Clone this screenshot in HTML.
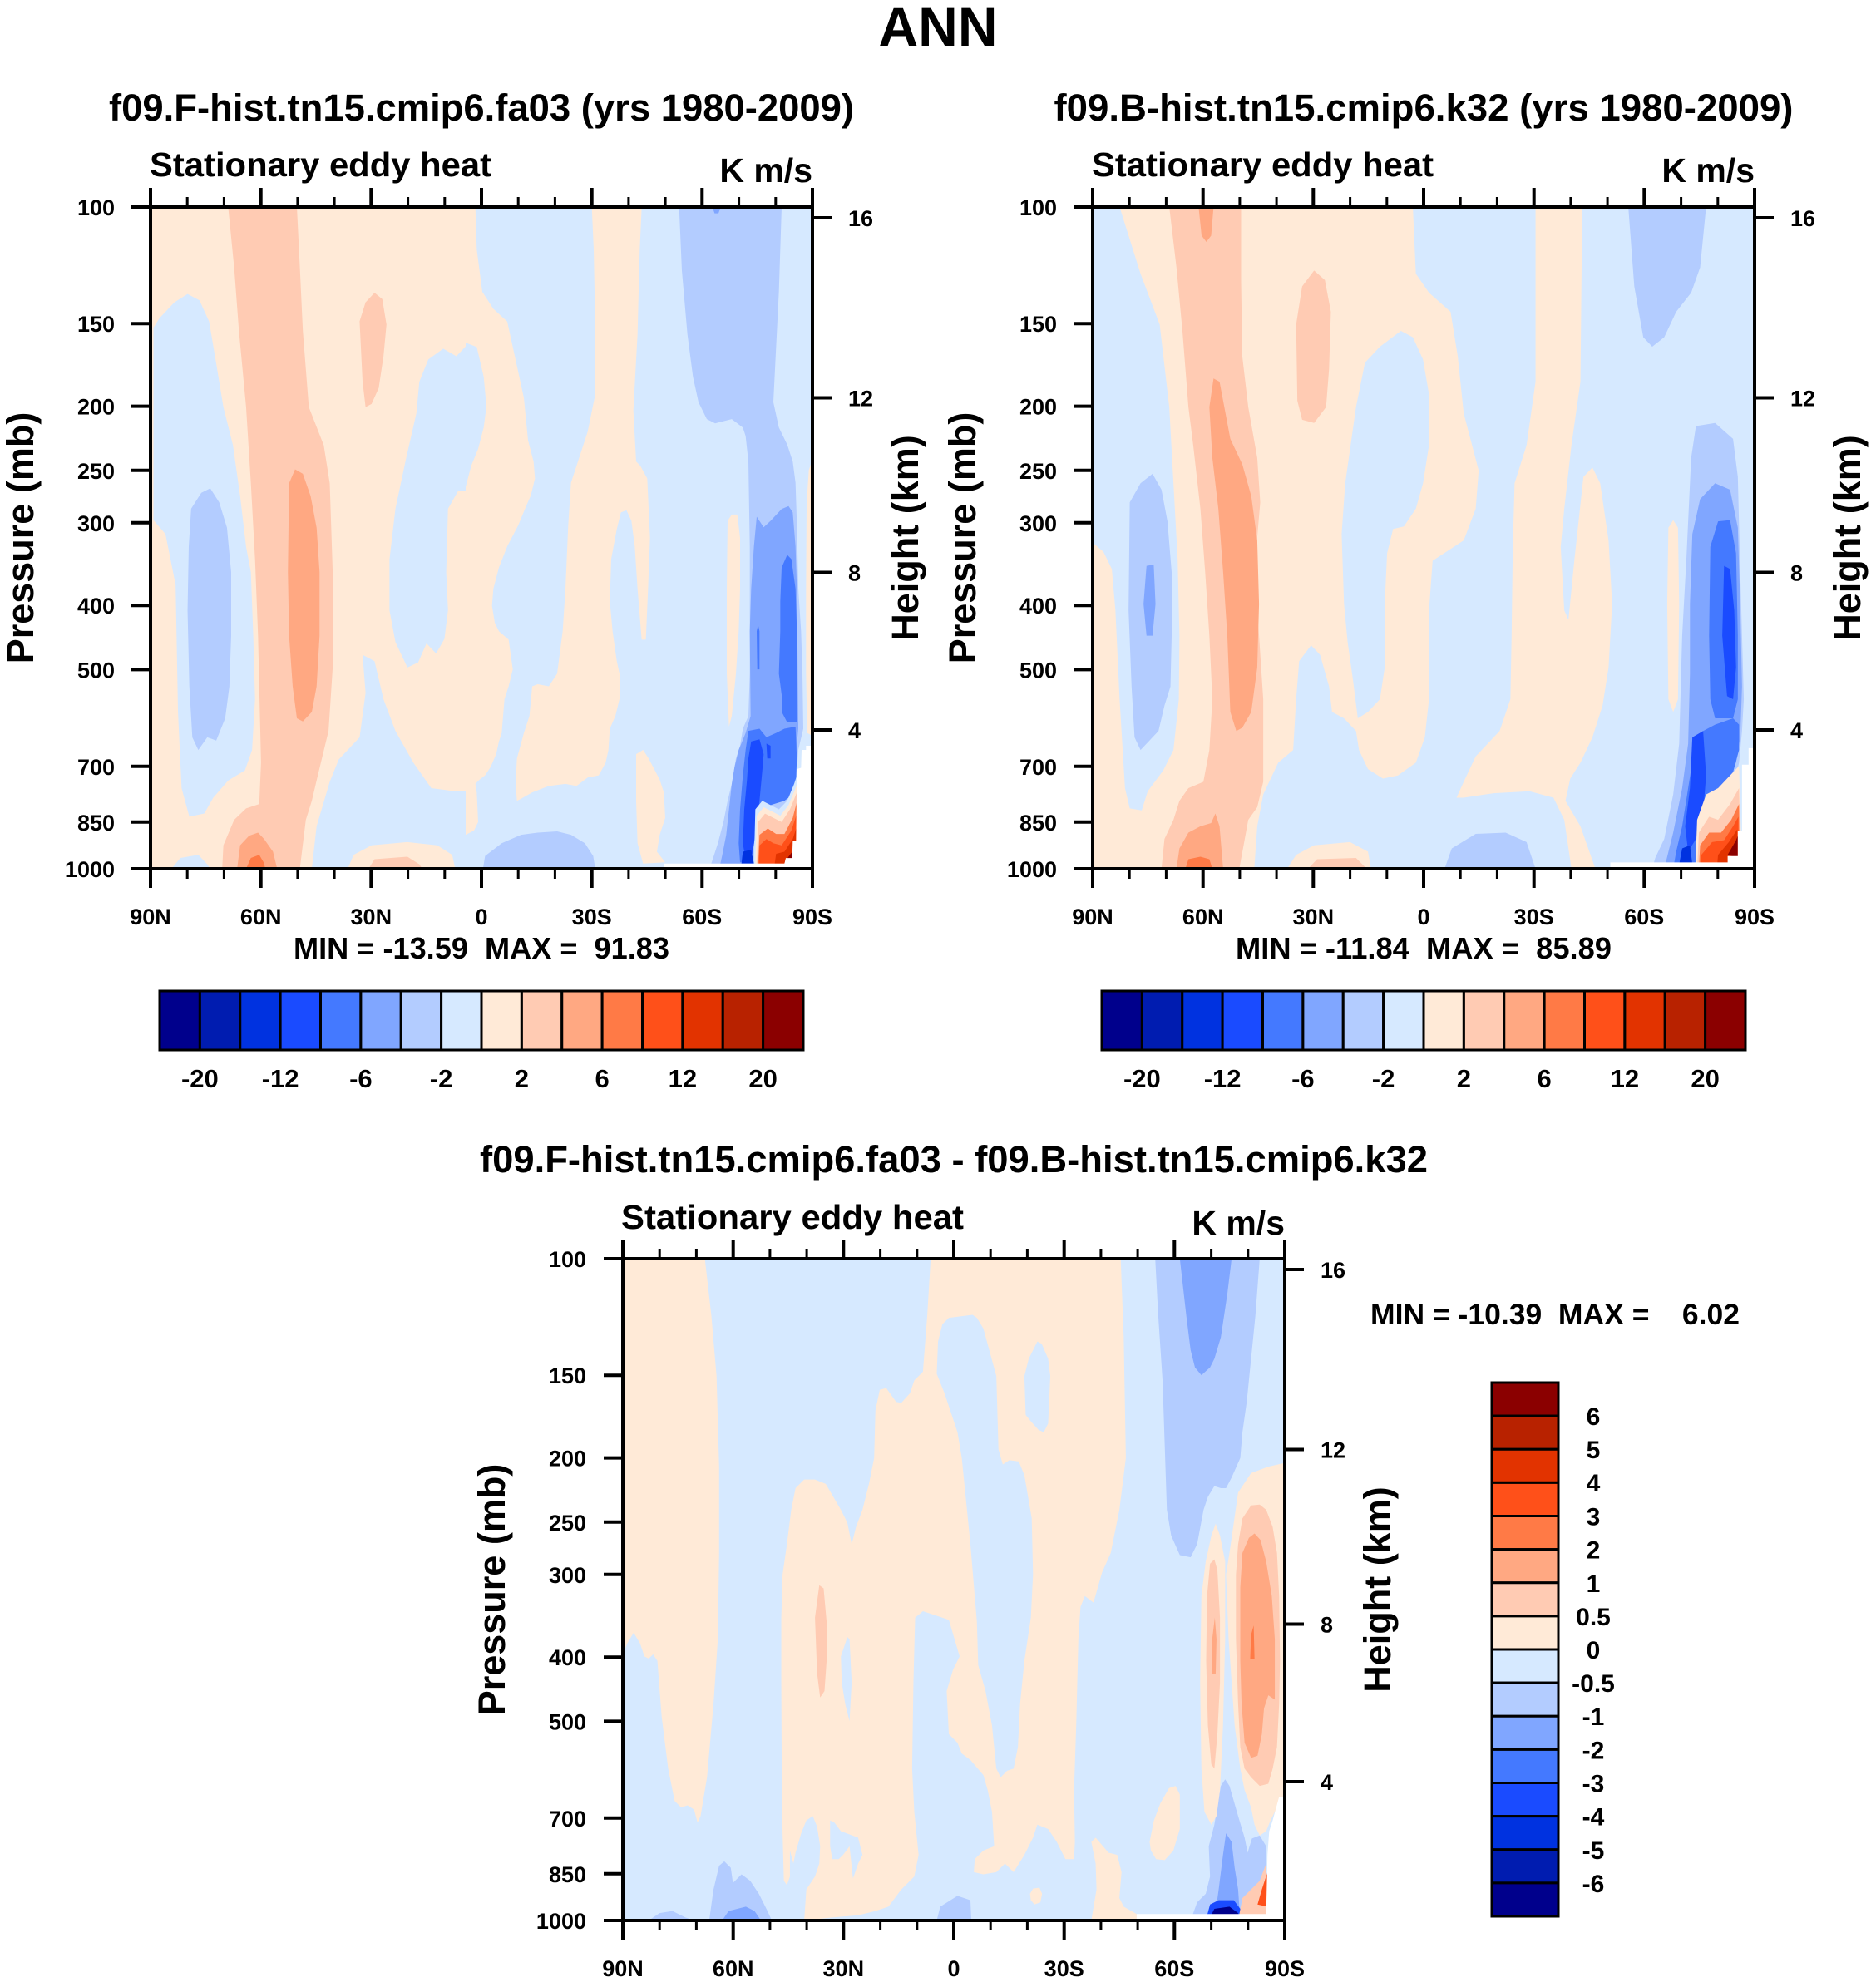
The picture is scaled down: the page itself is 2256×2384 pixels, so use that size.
<!DOCTYPE html>
<html><head><meta charset="utf-8"><style>
html,body{margin:0;padding:0;background:#fff;}
svg{display:block;}
text{font-family:"Liberation Sans",Arial,Helvetica,sans-serif;font-weight:bold;fill:#000;white-space:pre;}
</style></head><body>
<svg width="2256" height="2384" viewBox="0 0 2256 2384" xmlns="http://www.w3.org/2000/svg">
<defs>
<clipPath id="c1"><rect x="181" y="249" width="796" height="796"/></clipPath>
<clipPath id="c2"><rect x="1314" y="249" width="796" height="796"/></clipPath>
<clipPath id="c3"><rect x="749" y="1514" width="796" height="796"/></clipPath>
</defs>
<rect x="0" y="0" width="2256" height="2384" fill="#fff"/>

<!-- ================= PLOT 1 ================= -->
<g clip-path="url(#c1)"><g transform="translate(181,249) scale(0.71841,0.76392) translate(-250,-325)">
<rect x="250" y="325" width="1108" height="1042" fill="#FFEAD7"/>
<g fill="#D6E9FF">
<path d="M793,325 L1358,325 L1358,1367 L520,1367 L528,1300 L550,1230 L565,1195 L600,1160 L610,1090 L605,1030 L625,1040 L640,1100 L660,1150 L690,1200 L720,1240 L760,1245 L790,1245 L805,1260 L822,1235 L830,1180 L835,1130 L856,1088 L860,1050 L838,1000 L826,960 L828,885 L862,835 L888,790 L895,740 L878,690 L862,650 L852,560 L845,505 L818,480 L800,430 Z"/>
<path d="M255,515 L265,500 L290,475 L312,462 L332,472 L348,505 L358,560 L372,640 L388,700 L400,780 L410,860 L418,900 L422,1000 L425,1100 L420,1180 L408,1212 L380,1228 L355,1255 L340,1280 L315,1285 L302,1240 L296,1120 L292,920 L275,840 L255,818 Z"/>
<path d="M700,600 L715,565 L740,548 L762,560 L782,540 L800,550 L810,590 L810,700 L800,750 L790,772 L765,772 L748,800 L745,900 L748,960 L742,1005 L728,1028 L712,1012 L698,1042 L680,1050 L660,1010 L650,960 L650,880 L660,800 L678,720 L695,650 Z"/>
<path d="M285,1367 L300,1350 L330,1345 L345,1360 L350,1367 Z"/>
</g>
<g fill="#FFEAD7">
<path d="M580,1367 L590,1345 L620,1330 L680,1325 L730,1330 L755,1345 L760,1367 Z"/>
</g>
<g fill="#FFCBB3">
<path d="M380,325 L495,325 L500,420 L505,520 L515,640 L540,700 L550,760 L555,900 L555,1050 L548,1150 L530,1220 L520,1260 L510,1290 L500,1367 L370,1367 L372,1330 L390,1290 L410,1272 L432,1265 L435,1200 L430,1000 L425,880 L418,760 L410,640 L398,520 L390,420 Z"/>
<path d="M600,505 L610,475 L625,460 L638,470 L645,510 L640,560 L632,610 L620,635 L610,640 L605,600 Z"/>
<path d="M615,1367 L625,1352 L680,1348 L700,1360 L705,1367 Z"/>
</g>
<g fill="#FFA882">
<path d="M482,760 L492,738 L505,745 L518,780 L528,830 L533,900 L533,1000 L528,1080 L520,1120 L505,1135 L495,1130 L488,1080 L482,1000 L480,900 Z"/>
<path d="M395,1367 L400,1330 L415,1315 L430,1310 L440,1320 L455,1340 L462,1367 Z"/>
</g>
<path fill="#FF7A46" d="M410,1367 L418,1350 L432,1345 L440,1358 L442,1367 Z"/>
<g fill="#B3CCFF">
<path d="M318,800 L335,775 L350,768 L365,790 L378,830 L385,900 L385,1000 L382,1080 L375,1130 L360,1165 L345,1160 L330,1180 L320,1160 L315,1080 L312,960 L314,860 Z"/>
</g>
</g>
<!-- refined right part of plot 1 (page x >= 560) -->
<g transform="translate(560,249) scale(0.333333,0.510204)">
<rect x="0" y="0" width="1260" height="1570" fill="#D6E9FF"/>
<path fill="#FFEAD7" d="M0,0 L35,0 L40,100 L60,200 L100,240 L150,270 L180,360 L210,450 L225,550 L245,600 L250,640 L235,680 L215,710 L190,750 L150,800 L120,850 L100,900 L95,940 L105,980 L120,1000 L155,1020 L170,1090 L155,1130 L140,1160 L130,1240 L120,1260 L110,1290 L90,1320 L70,1340 L50,1350 L35,1360 L40,1380 L45,1450 L30,1470 L0,1480 Z"/>
<path fill="#D6E9FF" d="M0,320 L40,330 L65,400 L75,470 L65,520 L45,570 L20,610 L0,660 Z"/>
<path fill="#FFEAD7" d="M455,0 L635,0 L628,100 L620,300 L610,420 L605,480 L615,600 L630,610 L655,640 L665,780 L658,900 L650,1020 L635,1020 L620,900 L610,800 L598,740 L580,715 L560,720 L545,760 L525,830 L520,930 L530,1000 L545,1070 L555,1100 L555,1160 L540,1200 L520,1230 L515,1280 L505,1310 L480,1340 L440,1345 L400,1365 L360,1360 L300,1365 L240,1380 L200,1395 L185,1400 L180,1360 L185,1300 L210,1240 L230,1200 L240,1130 L260,1125 L300,1130 L330,1100 L350,1000 L360,900 L370,750 L380,650 L400,610 L440,530 L465,450 L468,300 L462,100 Z"/>
<path fill="#FFEAD7" d="M615,1290 L640,1280 L660,1300 L700,1350 L715,1380 L720,1440 L700,1480 L690,1520 L720,1545 L640,1548 L620,1500 L615,1400 Z"/>
<path fill="#FFEAD7" d="M942,900 L945,740 L960,725 L980,725 L990,780 L990,900 L985,1000 L975,1100 L960,1200 L950,1225 L942,1100 Z"/>
<path fill="#FFEAD7" d="M1260,580 L1238,620 L1230,700 L1228,900 L1228,1100 L1232,1240 L1260,1250 Z"/>
<path fill="#B3CCFF" d="M60,1570 L70,1530 L130,1500 L200,1480 L260,1475 L330,1472 L380,1480 L430,1500 L460,1530 L470,1570 Z"/>
<path fill="#B3CCFF" d="M770,0 L1140,0 L1130,200 L1110,460 L1130,520 L1160,560 L1180,600 L1190,650 L1195,750 L1200,900 L1210,1000 L1215,1100 L1218,1230 L1200,1280 L1195,1330 L1190,1400 L1180,1480 L1175,1545 L880,1560 L890,1540 L910,1500 L930,1450 L945,1400 L960,1360 L975,1300 L990,1270 L1000,1230 L1020,1200 L1025,1100 L1025,800 L1020,600 L1010,540 L1000,520 L960,500 L900,510 L870,500 L840,460 L820,400 L800,300 L780,150 Z"/>
<path fill="#80A6FF" d="M890,0 L920,0 L912,15 L898,15 Z"/>
<path fill="#80A6FF" d="M1050,730 L1075,755 L1100,740 L1140,712 L1165,705 L1180,720 L1190,800 L1195,900 L1198,1100 L1200,1230 L1190,1300 L1180,1380 L1060,1420 L1040,1480 L1020,1545 L915,1560 L925,1530 L940,1480 L950,1420 L960,1360 L970,1320 L985,1280 L1010,1240 L1028,1200 L1025,1000 L1030,900 L1040,800 Z"/>
<path fill="#4479FF" d="M1135,930 L1140,850 L1160,820 L1175,830 L1190,900 L1195,1000 L1195,1215 L1160,1215 L1140,1190 L1140,1150 L1130,1100 L1135,1000 Z"/>
<path fill="#4479FF" d="M1050,1000 L1055,985 L1060,1000 L1060,1090 L1052,1090 Z"/>
<path fill="#4479FF" d="M1020,1235 L1060,1230 L1085,1250 L1120,1240 L1150,1230 L1190,1225 L1195,1300 L1190,1380 L1150,1400 L1100,1410 L1060,1420 L1045,1480 L1030,1545 L990,1545 L985,1500 L990,1420 L1000,1340 L1010,1280 Z"/>
<path fill="#1A4BFF" d="M1030,1260 L1060,1255 L1075,1290 L1070,1330 L1060,1400 L1050,1450 L1040,1500 L1030,1540 L1010,1540 L1000,1500 L1005,1420 L1015,1350 L1020,1300 Z"/>
<path fill="#1A4BFF" d="M1085,1265 L1100,1270 L1100,1300 L1088,1300 Z"/>
<path fill="#0032E0" d="M995,1548 L1000,1520 L1030,1515 L1040,1548 Z"/>
<path fill="#D6E9FF" d="M1045,1420 L1070,1400 L1100,1410 L1130,1420 L1160,1400 L1185,1360 L1200,1330 L1200,1548 L1040,1548 Z"/>
<path fill="#FFEAD7" d="M1050,1435 L1075,1415 L1105,1425 L1135,1435 L1165,1410 L1190,1370 L1200,1350 L1200,1548 L1045,1548 Z"/>
<path fill="#FFCBB3" d="M1055,1450 L1080,1430 L1110,1440 L1140,1450 L1170,1420 L1195,1380 L1198,1548 L1050,1548 Z"/>
<path fill="#FF7A46" d="M1060,1480 L1090,1465 L1120,1478 L1150,1478 L1180,1440 L1196,1400 L1196,1548 L1055,1548 Z"/>
<path fill="#FF5019" d="M1060,1505 L1085,1490 L1110,1500 L1140,1505 L1175,1470 L1195,1430 L1195,1548 L1058,1548 Z"/>
<path fill="#E23300" d="M1120,1525 L1150,1520 L1180,1490 L1195,1460 L1195,1548 L1115,1548 Z"/>
<path fill="#8B0000" d="M1150,1545 L1178,1520 L1195,1490 L1195,1548 Z"/>
<path fill="#FFFFFF" d="M1228,1270 L1260,1270 L1260,1570 L715,1570 L715,1548 L1150,1548 L1155,1535 L1178,1535 L1180,1495 L1192,1495 L1195,1325 L1210,1322 L1212,1280 L1228,1280 Z"/>
</g>
</g>

<!-- ================= PLOT 2 ================= -->
<g clip-path="url(#c2)"><g transform="translate(1314,249) scale(0.71971,0.76392) translate(-260,-325)">
<rect x="260" y="325" width="1106" height="1042" fill="#FFEAD7"/>
<g fill="#D6E9FF">
<path d="M795,325 L1366,325 L1366,1367 L530,1367 L535,1300 L545,1250 L570,1200 L595,1180 L600,1100 L605,1040 L625,1015 L640,1030 L655,1080 L660,1120 L680,1130 L700,1150 L705,1180 L720,1210 L745,1225 L770,1220 L800,1200 L815,1160 L822,1100 L822,960 L828,882 L880,850 L900,800 L905,740 L880,650 L870,560 L858,490 L822,460 L800,430 Z"/>
<path d="M260,325 L305,325 L340,430 L372,510 L388,640 L395,760 L402,880 L405,1000 L404,1100 L395,1180 L378,1212 L352,1245 L342,1275 L322,1272 L314,1240 L305,1100 L298,960 L292,895 L278,868 L262,855 Z"/>
<path d="M700,640 L715,570 L740,545 L775,520 L795,530 L812,565 L822,620 L822,700 L812,760 L800,800 L780,828 L762,832 L752,870 L748,950 L748,1050 L740,1100 L720,1120 L703,1130 L695,1070 L686,1010 L680,950 L676,840 L682,760 Z"/>
</g>
<g fill="#FFEAD7">
<path d="M1000,325 L1078,325 L1075,600 L1060,700 L1048,800 L1042,860 L1048,960 L1055,975 L1065,880 L1080,750 L1095,735 L1108,760 L1122,850 L1128,950 L1122,1050 L1112,1110 L1095,1160 L1075,1200 L1058,1225 L1050,1260 L1075,1300 L1100,1367 L1060,1367 L1048,1290 L1030,1255 L990,1245 L930,1248 L880,1255 L868,1255 L880,1230 L900,1190 L940,1150 L958,1100 L960,1000 L962,860 L965,760 L985,700 L1000,600 Z"/>
<path d="M585,1367 L600,1345 L630,1330 L690,1325 L720,1340 L725,1367 Z"/>
<path d="M1220,950 L1222,830 L1230,818 L1238,830 L1240,950 L1238,1100 L1230,1120 L1222,1100 Z"/>
</g>
<g fill="#FFCBB3">
<path d="M388,325 L508,325 L508,440 L510,560 L520,640 L535,720 L540,790 L530,900 L538,1000 L545,1100 L545,1230 L535,1270 L520,1290 L505,1367 L375,1367 L380,1320 L395,1290 L405,1260 L420,1240 L445,1230 L455,1180 L460,1100 L455,1000 L448,900 L440,800 L428,700 L420,640 L410,520 L400,420 Z"/>
<path d="M600,510 L610,450 L630,425 L648,440 L658,490 L655,580 L650,640 L630,665 L610,660 L602,630 Z"/>
<path d="M620,1367 L635,1352 L700,1350 L718,1367 Z"/>
</g>
<g fill="#FFA882">
<path d="M455,640 L462,595 L472,600 L480,640 L490,690 L510,730 L525,780 L535,850 L538,950 L535,1050 L525,1120 L510,1145 L500,1150 L490,1120 L485,1000 L478,900 L470,800 L460,720 Z"/>
<path d="M437,325 L462,325 L458,370 L450,380 L442,370 Z"/>
<path d="M400,1367 L405,1335 L420,1310 L440,1300 L458,1295 L465,1280 L472,1300 L478,1367 Z"/>
</g>
<path fill="#FF7A46" d="M415,1367 L420,1352 L440,1348 L455,1352 L460,1367 Z"/>
<g fill="#B3CCFF">
<path d="M322,790 L340,760 L360,745 L375,770 L385,820 L392,900 L392,1000 L390,1080 L380,1110 L370,1150 L355,1165 L340,1180 L330,1160 L325,1080 L320,960 Z"/>
<path d="M848,1367 L860,1335 L900,1312 L950,1310 L985,1325 L1000,1367 Z"/>
<path d="M1155,325 L1285,325 L1275,420 L1260,460 L1235,490 L1215,530 L1195,545 L1180,530 L1165,450 Z"/>
<path d="M1240,1170 L1245,1000 L1252,880 L1260,720 L1268,670 L1300,665 L1330,690 L1338,750 L1342,900 L1345,1000 L1348,1100 L1345,1150 L1340,1200 L1330,1240 L1310,1280 L1290,1300 L1270,1330 L1260,1367 L1195,1367 L1200,1350 L1215,1320 L1230,1250 Z"/>
</g>
<g fill="#80A6FF">
<path d="M345,950 L350,890 L362,888 L365,950 L360,1000 L350,1000 Z"/>
<path d="M1258,950 L1262,840 L1275,785 L1300,760 L1325,770 L1338,830 L1342,950 L1345,1080 L1342,1160 L1335,1200 L1320,1230 L1300,1260 L1280,1290 L1265,1330 L1255,1367 L1215,1367 L1230,1310 L1245,1240 L1255,1170 L1258,1060 Z"/>
</g>
<g fill="#4479FF">
<path d="M1290,1000 L1292,860 L1305,820 L1325,818 L1335,870 L1338,1000 L1338,1100 L1330,1130 L1300,1130 L1292,1100 Z"/>
<path d="M1330,1130 L1300,1140 L1280,1150 L1265,1180 L1255,1240 L1245,1300 L1235,1340 L1230,1367 L1265,1367 L1275,1320 L1290,1280 L1310,1250 L1330,1215 L1340,1180 L1340,1140 Z"/>
</g>
<g fill="#1A4BFF">
<path d="M1312,1000 L1315,890 L1325,895 L1332,960 L1335,1050 L1330,1100 L1320,1095 Z"/>
<path d="M1262,1160 L1280,1150 L1285,1220 L1280,1280 L1268,1320 L1255,1340 L1250,1300 L1258,1240 Z"/>
</g>
<path fill="#0032E0" d="M1240,1360 L1245,1335 L1258,1330 L1262,1360 Z"/>
<path fill="#FFEAD7" d="M1270,1290 L1285,1250 L1305,1240 L1325,1220 L1340,1205 L1345,1367 L1267,1367 Z"/>
<path fill="#FFCBB3" d="M1273,1310 L1290,1285 L1305,1290 L1325,1265 L1340,1240 L1343,1367 L1270,1367 Z"/>
<path fill="#FF7A46" d="M1275,1330 L1290,1310 L1310,1310 L1327,1290 L1340,1265 L1341,1367 L1273,1367 Z"/>
<path fill="#FF5019" d="M1277,1345 L1295,1325 L1315,1322 L1330,1300 L1339,1285 L1339,1367 L1275,1367 Z"/>
<path fill="#E23300" d="M1305,1345 L1323,1325 L1337,1305 L1337,1367 L1303,1367 Z"/>
<path fill="#8B0000" d="M1321,1345 L1335,1322 L1338,1315 L1338,1350 Z"/>
<path fill="#FFFFFF" d="M1356,1177 L1366,1177 L1366,1367 L1125,1367 L1125,1357 L1321,1357 L1321,1347 L1338,1347 L1338,1308 L1345,1308 L1345,1203 L1356,1203 Z"/>
</g></g>

<!-- ================= PLOT 3 ================= -->
<g clip-path="url(#c3)"><g transform="translate(749,1514) scale(0.51924,0.5189) translate(-15,-18)">
<rect x="15" y="18" width="1533" height="1534" fill="#D6E9FF"/>
<g fill="#FFEAD7">
<path d="M15,18 L205,18 L220,150 L232,290 L238,500 L238,700 L235,900 L225,1050 L210,1220 L195,1310 L188,1325 L180,1295 L165,1285 L150,1290 L135,1275 L120,1200 L105,1080 L95,950 L85,935 L75,945 L65,940 L55,910 L40,885 L25,910 L15,935 Z"/>
<path d="M728,18 L1168,18 L1175,200 L1180,480 L1165,600 L1145,700 L1125,745 L1105,815 L1085,800 L1075,825 L1070,900 L1065,1100 L1060,1250 L1062,1370 L1060,1410 L1040,1410 L1020,1370 L1000,1340 L975,1330 L965,1360 L945,1400 L920,1440 L900,1420 L880,1440 L850,1445 L828,1440 L830,1410 L850,1390 L875,1380 L870,1300 L860,1250 L850,1215 L820,1180 L800,1165 L790,1140 L770,1120 L765,1020 L780,970 L795,940 L770,855 L740,845 L710,835 L692,850 L688,1000 L685,1200 L690,1300 L700,1400 L690,1450 L660,1480 L630,1520 L600,1530 L560,1540 L500,1545 L435,1552 L440,1480 L460,1450 L470,1420 L472,1380 L465,1335 L455,1310 L440,1320 L428,1350 L415,1395 L410,1420 L402,1390 L402,1450 L395,1470 L388,1460 L385,1350 L383,1200 L382,1000 L382,850 L385,750 L395,680 L405,600 L415,550 L435,530 L460,530 L485,540 L520,600 L535,630 L545,680 L555,640 L570,600 L585,540 L597,480 L600,370 L610,322 L625,318 L648,350 L660,352 L680,330 L690,300 L710,280 L720,150 Z"/>
<path d="M1100,1370 L1110,1360 L1140,1395 L1160,1400 L1170,1440 L1165,1500 L1175,1520 L1205,1537 L1205,1552 L1100,1552 L1112,1480 L1110,1420 Z"/>
<path d="M1235,1370 L1245,1320 L1260,1280 L1280,1245 L1295,1240 L1305,1260 L1305,1340 L1290,1390 L1270,1412 L1250,1410 L1238,1390 Z"/>
<path d="M958,1490 L965,1478 L980,1476 L986,1490 L982,1510 L968,1515 L960,1505 Z"/>
</g>
<g fill="#D6E9FF">
<path d="M770,155 L825,148 L835,155 L850,180 L880,290 L885,460 L895,495 L910,485 L932,488 L945,520 L962,620 L965,750 L960,850 L945,950 L935,1050 L930,1150 L920,1200 L905,1205 L890,1220 L880,1200 L870,1100 L855,1020 L838,960 L835,860 L830,800 L820,680 L810,580 L800,480 L790,420 L760,330 L742,285 L745,210 L755,170 Z"/>
<path d="M945,290 L955,250 L975,210 L985,215 L1000,250 L1005,290 L1000,400 L990,420 L978,415 L960,395 L948,380 Z"/>
<path d="M520,940 L535,895 L540,900 L545,1000 L540,1090 L530,1050 L522,1000 Z"/>
<path d="M495,1320 L505,1325 L520,1345 L560,1360 L570,1400 L560,1420 L548,1455 L540,1380 L525,1400 L515,1410 L500,1410 L495,1380 Z"/>
</g>
<path fill="#FFCBB3" d="M460,850 L470,775 L480,782 L487,860 L487,950 L482,1020 L472,1035 L465,980 Z"/>
<g fill="#B3CCFF">
<path d="M1248,18 L1490,18 L1480,150 L1470,250 L1460,350 L1450,420 L1445,480 L1425,525 L1412,550 L1400,550 L1385,545 L1370,570 L1360,600 L1345,680 L1330,710 L1305,705 L1285,660 L1275,600 L1270,450 L1265,300 L1255,150 Z"/>
<path d="M75,1552 L100,1535 L130,1530 L160,1545 L180,1552 Z"/>
<path d="M215,1552 L225,1480 L238,1425 L250,1415 L265,1430 L270,1465 L290,1445 L310,1460 L330,1490 L350,1530 L360,1552 Z"/>
<path d="M742,1552 L750,1520 L790,1495 L820,1505 L822,1552 Z"/>
<path d="M1330,1552 L1345,1510 L1365,1490 L1375,1450 L1372,1380 L1385,1330 L1400,1240 L1410,1225 L1420,1240 L1440,1310 L1455,1360 L1462,1395 L1472,1362 L1490,1355 L1505,1380 L1505,1450 L1490,1480 L1470,1500 L1450,1520 L1440,1552 Z"/>
</g>
<g fill="#80A6FF">
<path d="M1305,18 L1425,18 L1415,100 L1400,200 L1385,250 L1375,270 L1355,288 L1340,270 L1330,230 L1320,150 Z"/>
<path d="M245,1552 L260,1530 L300,1520 L320,1530 L335,1552 Z"/>
<path d="M1385,1552 L1395,1480 L1405,1400 L1412,1350 L1425,1370 L1432,1430 L1440,1480 L1445,1552 Z"/>
</g>
<path fill="#1A4BFF" d="M1365,1552 L1375,1515 L1395,1505 L1430,1505 L1445,1525 L1448,1552 Z"/>
<path fill="#00008C" d="M1375,1545 L1385,1525 L1420,1520 L1440,1535 L1440,1545 Z"/>
<path fill="#FFEAD7" d="M1355,800 L1365,720 L1378,660 L1388,632 L1398,660 L1410,720 L1410,900 L1405,1100 L1398,1250 L1390,1310 L1378,1330 L1362,1300 L1355,1200 L1352,1000 Z"/>
<path fill="#FFCBB3" d="M1368,800 L1375,725 L1385,715 L1392,740 L1398,850 L1398,1000 L1392,1120 L1385,1200 L1378,1190 L1370,1100 L1366,950 Z"/>
<path fill="#FFA882" d="M1380,900 L1386,850 L1390,900 L1388,980 L1380,980 Z"/>
<path fill="#FFEAD7" d="M1420,700 L1440,560 L1470,515 L1510,500 L1545,492 L1548,492 L1548,1260 L1530,1290 L1515,1320 L1505,1345 L1490,1355 L1478,1330 L1470,1290 L1455,1250 L1445,1200 L1432,1100 L1425,1000 L1418,900 L1412,750 Z"/>
<path fill="#FFCBB3" d="M1435,750 L1440,680 L1450,620 L1470,590 L1490,588 L1505,600 L1520,640 L1530,700 L1535,800 L1537,950 L1535,1050 L1530,1150 L1520,1200 L1510,1235 L1490,1240 L1470,1220 L1455,1200 L1445,1150 L1440,1050 L1435,900 Z"/>
<path fill="#FFA882" d="M1445,780 L1450,700 L1465,665 L1478,655 L1492,670 L1505,720 L1518,800 L1525,900 L1525,1040 L1510,1030 L1500,1060 L1495,1120 L1485,1170 L1470,1175 L1455,1140 L1448,1050 L1445,950 Z"/>
<path fill="#FF7A46" d="M1468,945 L1470,890 L1476,868 L1478,945 Z"/>
<path fill="#FFCBB3" d="M1440,1552 L1450,1500 L1470,1480 L1490,1460 L1505,1420 L1508,1552 Z"/>
<path fill="#FF5019" d="M1485,1515 L1495,1480 L1508,1440 L1508,1520 Z"/>
<path fill="#FFFFFF" d="M1535,1265 L1548,1265 L1548,1552 L1205,1552 L1205,1537 L1505,1537 L1508,1400 L1512,1345 L1520,1320 Z"/>
</g></g>

<!-- ================= FRAMES & TICKS ================= -->
<g fill="none" stroke="#000" stroke-linecap="butt">
<rect x="181" y="249" width="796" height="796" stroke-width="4"/>
<rect x="1314" y="249" width="796" height="796" stroke-width="4"/>
<rect x="749" y="1514" width="796" height="796" stroke-width="4"/>
<path stroke-width="4" d="M181,249V226M313.7,249V226M446.3,249V226M579,249V226M711.7,249V226M844.3,249V226M977,249V226 M181,1045V1068M313.7,1045V1068M446.3,1045V1068M579,1045V1068M711.7,1045V1068M844.3,1045V1068M977,1045V1068 M158,249H181M158,389.2H181M158,488.6H181M158,565.8H181M158,628.8H181M158,728.2H181M158,805.4H181M158,921.7H181M158,988.8H181M158,1045H181 M977,262H1000M977,478.5H1000M977,688.5H1000M977,878H1000"/>
<path stroke-width="3" d="M225.2,249V237M269.4,249V237M357.9,249V237M402.1,249V237M490.6,249V237M534.8,249V237M623.2,249V237M667.4,249V237M755.9,249V237M800.1,249V237M888.6,249V237M932.8,249V237 M225.2,1045V1057M269.4,1045V1057M357.9,1045V1057M402.1,1045V1057M490.6,1045V1057M534.8,1045V1057M623.2,1045V1057M667.4,1045V1057M755.9,1045V1057M800.1,1045V1057M888.6,1045V1057M932.8,1045V1057"/>
<path stroke-width="4" d="M1314,249V226M1446.7,249V226M1579.3,249V226M1712,249V226M1844.7,249V226M1977.3,249V226M2110,249V226 M1314,1045V1068M1446.7,1045V1068M1579.3,1045V1068M1712,1045V1068M1844.7,1045V1068M1977.3,1045V1068M2110,1045V1068 M1291,249H1314M1291,389.2H1314M1291,488.6H1314M1291,565.8H1314M1291,628.8H1314M1291,728.2H1314M1291,805.4H1314M1291,921.7H1314M1291,988.8H1314M1291,1045H1314 M2110,262H2133M2110,478.5H2133M2110,688.5H2133M2110,878H2133"/>
<path stroke-width="3" d="M1358.2,249V237M1402.4,249V237M1490.9,249V237M1535.1,249V237M1623.6,249V237M1667.8,249V237M1756.2,249V237M1800.4,249V237M1888.9,249V237M1933.1,249V237M2021.6,249V237M2065.8,249V237 M1358.2,1045V1057M1402.4,1045V1057M1490.9,1045V1057M1535.1,1045V1057M1623.6,1045V1057M1667.8,1045V1057M1756.2,1045V1057M1800.4,1045V1057M1888.9,1045V1057M1933.1,1045V1057M2021.6,1045V1057M2065.8,1045V1057"/>
<path stroke-width="4" d="M749,1514V1491M881.7,1514V1491M1014.3,1514V1491M1147,1514V1491M1279.7,1514V1491M1412.3,1514V1491M1545,1514V1491 M749,2310V2333M881.7,2310V2333M1014.3,2310V2333M1147,2310V2333M1279.7,2310V2333M1412.3,2310V2333M1545,2310V2333 M726,1514H749M726,1654.2H749M726,1753.6H749M726,1830.8H749M726,1893.8H749M726,1993.2H749M726,2070.4H749M726,2186.7H749M726,2253.8H749M726,2310H749 M1545,1527H1568M1545,1743.5H1568M1545,1953.5H1568M1545,2143H1568"/>
<path stroke-width="3" d="M793.2,1514V1502M837.4,1514V1502M925.9,1514V1502M970.1,1514V1502M1058.6,1514V1502M1102.8,1514V1502M1191.2,1514V1502M1235.4,1514V1502M1323.9,1514V1502M1368.1,1514V1502M1456.6,1514V1502M1500.8,1514V1502 M793.2,2310V2322M837.4,2310V2322M925.9,2310V2322M970.1,2310V2322M1058.6,2310V2322M1102.8,2310V2322M1191.2,2310V2322M1235.4,2310V2322M1323.9,2310V2322M1368.1,2310V2322M1456.6,2310V2322M1500.8,2310V2322"/>
</g>

<!-- ================= COLORBARS ================= -->
<g stroke="#000" stroke-width="3">
<rect x="192" y="1192" width="48.375" height="71" fill="#00008C"/>
<rect x="240.375" y="1192" width="48.375" height="71" fill="#001CB0"/>
<rect x="288.75" y="1192" width="48.375" height="71" fill="#0032E0"/>
<rect x="337.125" y="1192" width="48.375" height="71" fill="#1A4BFF"/>
<rect x="385.5" y="1192" width="48.375" height="71" fill="#4479FF"/>
<rect x="433.875" y="1192" width="48.375" height="71" fill="#80A6FF"/>
<rect x="482.25" y="1192" width="48.375" height="71" fill="#B3CCFF"/>
<rect x="530.625" y="1192" width="48.375" height="71" fill="#D6E9FF"/>
<rect x="579" y="1192" width="48.375" height="71" fill="#FFEAD7"/>
<rect x="627.375" y="1192" width="48.375" height="71" fill="#FFCBB3"/>
<rect x="675.75" y="1192" width="48.375" height="71" fill="#FFA882"/>
<rect x="724.125" y="1192" width="48.375" height="71" fill="#FF7A46"/>
<rect x="772.5" y="1192" width="48.375" height="71" fill="#FF5019"/>
<rect x="820.875" y="1192" width="48.375" height="71" fill="#E23300"/>
<rect x="869.25" y="1192" width="48.375" height="71" fill="#B82200"/>
<rect x="917.625" y="1192" width="48.375" height="71" fill="#8B0000"/>

<rect x="1325" y="1192" width="48.375" height="71" fill="#00008C"/>
<rect x="1373.375" y="1192" width="48.375" height="71" fill="#001CB0"/>
<rect x="1421.75" y="1192" width="48.375" height="71" fill="#0032E0"/>
<rect x="1470.125" y="1192" width="48.375" height="71" fill="#1A4BFF"/>
<rect x="1518.5" y="1192" width="48.375" height="71" fill="#4479FF"/>
<rect x="1566.875" y="1192" width="48.375" height="71" fill="#80A6FF"/>
<rect x="1615.25" y="1192" width="48.375" height="71" fill="#B3CCFF"/>
<rect x="1663.625" y="1192" width="48.375" height="71" fill="#D6E9FF"/>
<rect x="1712" y="1192" width="48.375" height="71" fill="#FFEAD7"/>
<rect x="1760.375" y="1192" width="48.375" height="71" fill="#FFCBB3"/>
<rect x="1808.75" y="1192" width="48.375" height="71" fill="#FFA882"/>
<rect x="1857.125" y="1192" width="48.375" height="71" fill="#FF7A46"/>
<rect x="1905.5" y="1192" width="48.375" height="71" fill="#FF5019"/>
<rect x="1953.875" y="1192" width="48.375" height="71" fill="#E23300"/>
<rect x="2002.25" y="1192" width="48.375" height="71" fill="#B82200"/>
<rect x="2050.625" y="1192" width="48.375" height="71" fill="#8B0000"/>

<rect x="1794" y="1663" width="80" height="40.125" fill="#8B0000"/>
<rect x="1794" y="1703.125" width="80" height="40.125" fill="#B82200"/>
<rect x="1794" y="1743.25" width="80" height="40.125" fill="#E23300"/>
<rect x="1794" y="1783.375" width="80" height="40.125" fill="#FF5019"/>
<rect x="1794" y="1823.5" width="80" height="40.125" fill="#FF7A46"/>
<rect x="1794" y="1863.625" width="80" height="40.125" fill="#FFA882"/>
<rect x="1794" y="1903.75" width="80" height="40.125" fill="#FFCBB3"/>
<rect x="1794" y="1943.875" width="80" height="40.125" fill="#FFEAD7"/>
<rect x="1794" y="1984" width="80" height="40.125" fill="#D6E9FF"/>
<rect x="1794" y="2024.125" width="80" height="40.125" fill="#B3CCFF"/>
<rect x="1794" y="2064.25" width="80" height="40.125" fill="#80A6FF"/>
<rect x="1794" y="2104.375" width="80" height="40.125" fill="#4479FF"/>
<rect x="1794" y="2144.5" width="80" height="40.125" fill="#1A4BFF"/>
<rect x="1794" y="2184.625" width="80" height="40.125" fill="#0032E0"/>
<rect x="1794" y="2224.75" width="80" height="40.125" fill="#001CB0"/>
<rect x="1794" y="2264.875" width="80" height="40.125" fill="#00008C"/>
</g>

<!-- ================= TEXT ================= -->
<text x="1128" y="55" font-size="66" text-anchor="middle">ANN</text>

<text x="579" y="145" font-size="45" text-anchor="middle" textLength="896" lengthAdjust="spacingAndGlyphs">f09.F-hist.tn15.cmip6.fa03 (yrs 1980-2009)</text>
<text x="1712" y="145" font-size="45" text-anchor="middle" textLength="889" lengthAdjust="spacingAndGlyphs">f09.B-hist.tn15.cmip6.k32 (yrs 1980-2009)</text>
<text x="1147" y="1410" font-size="45" text-anchor="middle" textLength="1140" lengthAdjust="spacingAndGlyphs">f09.F-hist.tn15.cmip6.fa03 - f09.B-hist.tn15.cmip6.k32</text>

<text x="180" y="212" font-size="41" textLength="411" lengthAdjust="spacingAndGlyphs">Stationary eddy heat</text>
<text x="977" y="219" font-size="41" text-anchor="end">K m/s</text>
<text x="1313" y="212" font-size="41" textLength="411" lengthAdjust="spacingAndGlyphs">Stationary eddy heat</text>
<text x="2110" y="219" font-size="41" text-anchor="end">K m/s</text>
<text x="747" y="1478" font-size="41" textLength="412" lengthAdjust="spacingAndGlyphs">Stationary eddy heat</text>
<text x="1545" y="1485" font-size="41" text-anchor="end">K m/s</text>

<text x="579" y="1153" font-size="36" text-anchor="middle" textLength="452" lengthAdjust="spacingAndGlyphs">MIN = -13.59  MAX =  91.83</text>
<text x="1712" y="1153" font-size="36" text-anchor="middle" textLength="452" lengthAdjust="spacingAndGlyphs">MIN = -11.84  MAX =  85.89</text>
<text x="1648" y="1593" font-size="35" textLength="444" lengthAdjust="spacingAndGlyphs">MIN = -10.39  MAX =    6.02</text>

<text transform="translate(40,647) rotate(-90)" font-size="45" text-anchor="middle">Pressure (mb)</text>
<text transform="translate(1104,647) rotate(-90)" font-size="45" text-anchor="middle">Height (km)</text>
<text transform="translate(1173,647) rotate(-90)" font-size="45" text-anchor="middle">Pressure (mb)</text>
<text transform="translate(2237,647) rotate(-90)" font-size="45" text-anchor="middle">Height (km)</text>
<text transform="translate(607,1912) rotate(-90)" font-size="45" text-anchor="middle">Pressure (mb)</text>
<text transform="translate(1672,1912) rotate(-90)" font-size="45" text-anchor="middle">Height (km)</text>

<g font-size="27" text-anchor="end">
<text x="138" y="259">100</text><text x="138" y="399">150</text><text x="138" y="498.5">200</text><text x="138" y="576">250</text><text x="138" y="639">300</text><text x="138" y="738">400</text><text x="138" y="815.5">500</text><text x="138" y="932">700</text><text x="138" y="999">850</text><text x="138" y="1055">1000</text>
<text x="1271" y="259">100</text><text x="1271" y="399">150</text><text x="1271" y="498.5">200</text><text x="1271" y="576">250</text><text x="1271" y="639">300</text><text x="1271" y="738">400</text><text x="1271" y="815.5">500</text><text x="1271" y="932">700</text><text x="1271" y="999">850</text><text x="1271" y="1055">1000</text>
<text x="705" y="1524">100</text><text x="705" y="1664">150</text><text x="705" y="1763.5">200</text><text x="705" y="1841">250</text><text x="705" y="1904">300</text><text x="705" y="2003">400</text><text x="705" y="2080.5">500</text><text x="705" y="2197">700</text><text x="705" y="2264">850</text><text x="705" y="2320">1000</text>
</g>
<g font-size="27">
<text x="1020" y="272">16</text><text x="1020" y="488.5">12</text><text x="1020" y="698.5">8</text><text x="1020" y="888">4</text>
<text x="2153" y="272">16</text><text x="2153" y="488.5">12</text><text x="2153" y="698.5">8</text><text x="2153" y="888">4</text>
<text x="1588" y="1537">16</text><text x="1588" y="1753.5">12</text><text x="1588" y="1963.5">8</text><text x="1588" y="2153">4</text>
</g>
<g font-size="27" text-anchor="middle">
<text x="181" y="1112">90N</text><text x="313.7" y="1112">60N</text><text x="446.3" y="1112">30N</text><text x="579" y="1112">0</text><text x="711.7" y="1112">30S</text><text x="844.3" y="1112">60S</text><text x="977" y="1112">90S</text>
<text x="1314" y="1112">90N</text><text x="1446.7" y="1112">60N</text><text x="1579.3" y="1112">30N</text><text x="1712" y="1112">0</text><text x="1844.7" y="1112">30S</text><text x="1977.3" y="1112">60S</text><text x="2110" y="1112">90S</text>
<text x="749" y="2377">90N</text><text x="881.7" y="2377">60N</text><text x="1014.3" y="2377">30N</text><text x="1147" y="2377">0</text><text x="1279.7" y="2377">30S</text><text x="1412.3" y="2377">60S</text><text x="1545" y="2377">90S</text>
</g>
<g font-size="31" text-anchor="middle">
<text x="240.4" y="1308">-20</text><text x="337.1" y="1308">-12</text><text x="433.9" y="1308">-6</text><text x="530.6" y="1308">-2</text><text x="627.4" y="1308">2</text><text x="724.1" y="1308">6</text><text x="820.9" y="1308">12</text><text x="917.6" y="1308">20</text>
<text x="1373.4" y="1308">-20</text><text x="1470.1" y="1308">-12</text><text x="1566.9" y="1308">-6</text><text x="1663.6" y="1308">-2</text><text x="1760.4" y="1308">2</text><text x="1857.1" y="1308">6</text><text x="1953.9" y="1308">12</text><text x="2050.6" y="1308">20</text>
</g>
<g font-size="30" text-anchor="middle">
<text x="1916" y="1714">6</text><text x="1916" y="1754">5</text><text x="1916" y="1794">4</text><text x="1916" y="1834.5">3</text><text x="1916" y="1874.5">2</text><text x="1916" y="1915">1</text><text x="1916" y="1955">0.5</text><text x="1916" y="1995">0</text><text x="1916" y="2035">-0.5</text><text x="1916" y="2075">-1</text><text x="1916" y="2115.5">-2</text><text x="1916" y="2155.5">-3</text><text x="1916" y="2195.5">-4</text><text x="1916" y="2236">-5</text><text x="1916" y="2276">-6</text>
</g>
</svg>
</body></html>
